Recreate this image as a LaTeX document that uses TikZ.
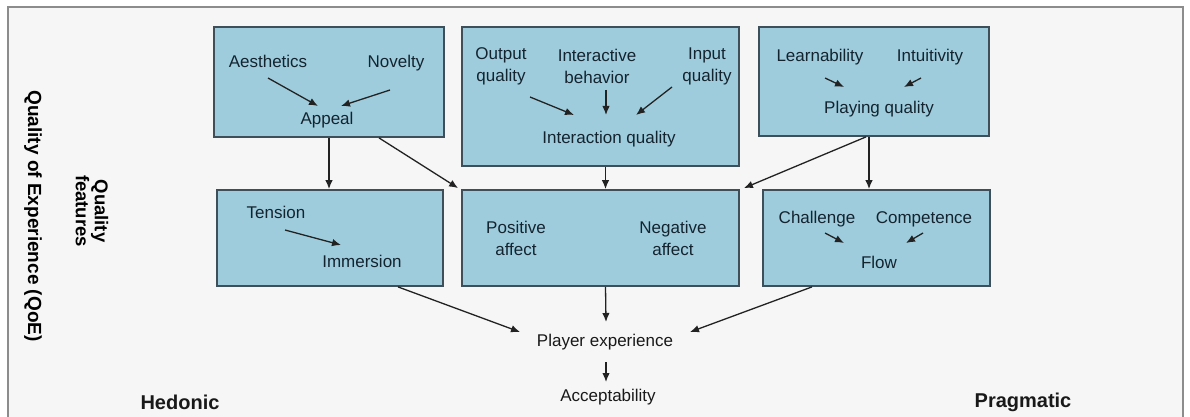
\documentclass[tikz,border=0pt]{standalone}
\usepackage{fontspec}
\setmainfont{Liberation Sans}
\usepackage{xcolor}
\usepackage{tikz}
\usetikzlibrary{calc, arrows.meta}
\definecolor{boxblue}{HTML}{9ECCDD}
\definecolor{boxline}{HTML}{3E4F5A}
\definecolor{boxtext}{HTML}{14242F}
\definecolor{framefill}{HTML}{F6F6F6}
\definecolor{frameline}{HTML}{8C8C8C}
\definecolor{arrowgray}{HTML}{222222}
\tikzset{qbox/.style={rectangle, draw=boxline, fill=boxblue, line width=1.8pt, inner sep=0pt},
lbl/.style={text=boxtext, font=\fontsize{17}{22}\selectfont, text height=12pt, text depth=3.5pt, inner sep=1pt},
lbltwo/.style={text=boxtext, font=\fontsize{17}{22}\selectfont, align=center, inner sep=1pt},
arr/.style={-{Latex[length=9pt,width=7.5pt]}, line width=1.3pt, draw=arrowgray},
side/.style={font=\bfseries\fontsize{20}{24}\selectfont, text=black!90}}

\begin{document}
\begin{tikzpicture}[x=1pt,y=-1pt]
 \useasboundingbox (0,0) rectangle (1190,417);
 %Drawing outer frame
 \begin{scope}
 \clip (0,0) rectangle (1190,417);
 \draw[draw=frameline, fill=framefill, line width=1.5pt] (8,7) rectangle (1183,440);
 \end{scope}

 %Drawing boxes
 \node[qbox, minimum width=230pt, minimum height=110pt] (appealbox) at (329,82) {};
 \node[qbox, minimum width=277pt, minimum height=139pt] (interbox) at (600.5,96.5) {};
 \node[qbox, minimum width=230pt, minimum height=109pt] (playbox) at (874,81.5) {};
 \node[qbox, minimum width=226pt, minimum height=96pt] (tensionbox) at (330,238) {};
 \node[qbox, minimum width=277pt, minimum height=96pt] (affectbox) at (600.5,238) {};
 \node[qbox, minimum width=227pt, minimum height=96pt] (flowbox) at (876.5,238) {};

 %Labels in top boxes
 \node[lbl] (aest) at (268,63) {Aesthetics};
 \node[lbl] (novelty) at (396,63) {Novelty};
 \node[lbl] (appeal) at (327,120) {Appeal};
 \node[lbltwo] (output) at (501,66) {Output\\quality};
 \node[lbltwo] (interactive) at (597,66) {Interactive\\behavior};
 \node[lbltwo] (input) at (707,66) {Input\\quality};
 \node[lbl] (interq) at (609,139) {Interaction quality};
 \node[lbl] (learn) at (820,57) {Learnability};
 \node[lbl] (intuit) at (930,57) {Intuitivity};
 \node[lbl] (playq) at (879,109) {Playing quality};

 %Labels in bottom boxes
 \node[lbl] (tension) at (276,214) {Tension};
 \node[lbl] (immersion) at (362,263) {Immersion};
 \node[lbltwo] (positive) at (516,238) {Positive\\affect};
 \node[lbltwo] (negative) at (673,238) {Negative\\affect};
 \node[lbl] (challenge) at (817,219) {Challenge};
 \node[lbl] (competence) at (924,219) {Competence};
 \node[lbl] (flow) at (879,264) {Flow};

 %Labels below
 \node[lbl, text=black!90] (player) at (605,342) {Player experience};
 \node[lbl, text=black!90] (accept) at (608,397) {Acceptability};
 \node[side] (hedonic) at (180,402) {Hedonic};
 \node[side] (pragmatic) at (1023,402) {Pragmatic};
 \node[font=\bfseries\fontsize{19}{22}\selectfont, rotate=-90, inner sep=1pt] (qoe) at (33,216) {Quality of Experience (QoE)};
 \node[font=\bfseries\fontsize{18.5}{19}\selectfont, rotate=-90, align=center, inner sep=1pt] (qfeat) at (92,211) {Quality\\features};

 %Arrows inside boxes
 \draw[arr] ($(aest)+(0,15)$) -- ($(appeal)+(-9,-14)$);
 \draw[arr] ($(novelty)+(-6,27)$) -- ($(appeal)+(14,-14)$);
 \draw[arr] ($(output)+(29,31)$) -- ($(interq)+(-35,-24)$);
 \draw[arr] ($(interactive)+(9,24)$) -- ($(interq)+(-3,-24)$);
 \draw[arr] ($(input)+(-35,21)$) -- ($(interq)+(27,-24)$);
 \draw[arr] ($(learn)+(5,21)$) -- ($(playq)+(-35,-22)$);
 \draw[arr] ($(intuit)+(-9,21)$) -- ($(playq)+(25,-22)$);
 \draw[arr] ($(tension)+(9,16)$) -- ($(immersion)+(-21,-18)$);
 \draw[arr] ($(challenge)+(8,14)$) -- ($(flow)+(-35,-21)$);
 \draw[arr] ($(competence)+(-1,14)$) -- ($(flow)+(27,-21)$);

 %Arrows between boxes
 \draw[arr] (appealbox.south) -- (appealbox.south |- tensionbox.north);
 \draw[arr] ($(appealbox.south)+(50,0)$) -- ($(affectbox.north west)+(-3,-1)$);
 \draw[arr] ($(interbox.south)+(5,0)$) -- ($(affectbox.north)+(5,0)$);
 \draw[arr] ($(playbox.south)+(-5,0)$) -- ($(flowbox.north)+(-7.5,0)$);
 \draw[arr] ($(playbox.south)+(-8,0)$) -- ($(affectbox.north east)+(4,-1)$);
 \draw[arr] ($(tensionbox.south)+(68,0)$) -- ($(player)+(-85,-10)$);
 \draw[arr] ($(affectbox.south)+(5,0)$) -- ($(player)+(1,-20)$);
 \draw[arr] ($(flowbox.south)+(-64.5,0)$) -- ($(player)+(85,-10)$);
 \draw[arr] ($(player)+(1,20)$) -- ($(accept)+(-2,-15)$);
\end{tikzpicture}
\end{document}
